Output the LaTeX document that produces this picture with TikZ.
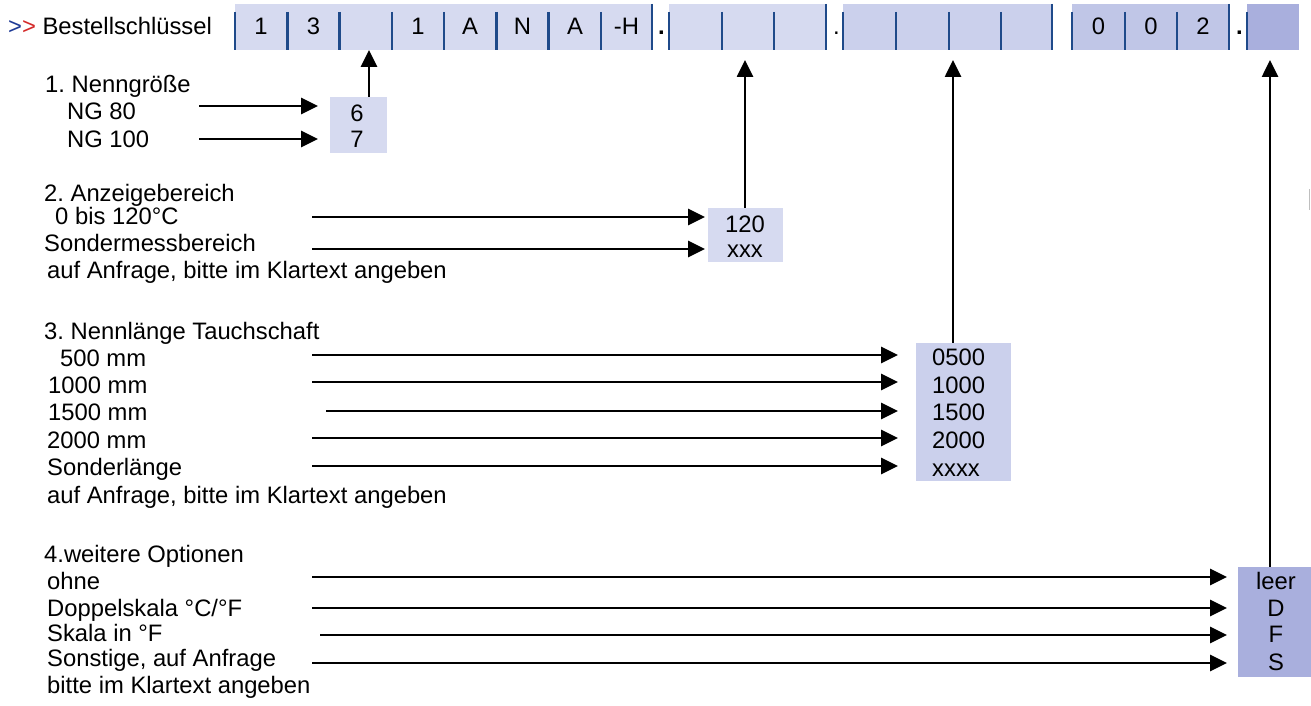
\documentclass[tikz,border=0pt]{standalone}
\usepackage{fontspec}
\setmainfont{Liberation Sans}
\usetikzlibrary{arrows.meta}
\definecolor{sepblue}{HTML}{1F4A8A}
\definecolor{fillA}{HTML}{D6DAF0}
\definecolor{fillB}{HTML}{CBD0EC}
\definecolor{fillC}{HTML}{C0C6E7}
\definecolor{fillD}{HTML}{A9AFDD}
\definecolor{gtblue}{HTML}{1E3A96}
\definecolor{gtred}{HTML}{D42A2A}
\frenchspacing
\begin{document}
\begin{tikzpicture}[x=1pt,y=-1pt,
  txt/.style={anchor=base west, inner sep=0pt, font=\fontsize{23.8}{27}\selectfont},
  ctxt/.style={anchor=base, inner sep=0pt, font=\fontsize{23.8}{27}\selectfont},
  arr/.style={line width=2.7pt, -{Triangle[length=17pt,width=16pt]}},
  sepline/.style={draw=sepblue, line width=2.4pt},
  segbox/.style={draw=none, inner sep=0pt, minimum height=46pt},
  optbox/.style={draw=none, inner sep=0pt}
  ]
\useasboundingbox (0,0) rectangle (1311,706);
\fill[white] (0,0) rectangle (1311,706);

% header
\node[txt] (head) at (8,35) {{\color{gtblue}>}{\color{gtred}>} Bestellschlüssel};

% bar segments
\node[segbox, fill=fillA, minimum width=417pt] (seg1) at (443.5,27) {};
\node[segbox, fill=fillA, minimum width=157pt] (seg2) at (747.5,27) {};
\node[segbox, fill=fillB, minimum width=209pt] (seg3) at (947.5,27) {};
\node[segbox, fill=fillC, minimum width=157pt] (seg4) at (1150.5,27) {};
\node[segbox, fill=fillD, minimum width=52pt] (seg5) at (1273,27) {};

% separators
\foreach \x in {235,287.5,339.5,392,444,496.5,548.5,601,669,722,774,843,896,949,1001,1072,1125,1177,1247}
  \draw[sepline] (\x,12) -- (\x,50);
\foreach \x in {652,826,1052,1229}
  \draw[sepline] (\x,4) -- (\x,50);

% bar texts
\node[ctxt] (c1) at (261,35) {1};
\node[ctxt] (c2) at (313.5,35) {3};
\node[ctxt] (c4) at (418,35) {1};
\node[ctxt] (c5) at (470,35) {A};
\node[ctxt] (c6) at (522.5,35) {N};
\node[ctxt] (c7) at (575,35) {A};
\node[ctxt] (c8) at (626.5,35) {-H};
\node[ctxt] (d1) at (661.5,35) {\textbf{.}};
\node[ctxt] (d2) at (836.5,35) {.};
\node[ctxt] (c9) at (1098.5,35) {0};
\node[ctxt] (c10) at (1151,35) {0};
\node[ctxt] (c11) at (1203,35) {2};
\node[ctxt] (d3) at (1239.5,35) {\textbf{.}};

% up-arrow targets
\coordinate (t1) at (369,50);
\coordinate (t2) at (745,60);
\coordinate (t3) at (953,60);
\coordinate (t4) at (1270,60);

% option boxes
\node[optbox, fill=fillA, minimum width=57pt, minimum height=56pt] (b1) at (358.5,125) {};
\node[optbox, fill=fillA, minimum width=75pt, minimum height=54pt] (b2) at (745.5,235) {};
\node[optbox, fill=fillB, minimum width=95pt, minimum height=138pt] (b3) at (963.5,412) {};
\node[optbox, fill=fillD, minimum width=73pt, minimum height=110pt] (b4) at (1274.5,622) {};

\draw[arr] (b1.north -| t1) -- (t1);
\draw[arr] (b2.north -| t2) -- (t2);
\draw[arr] (b3.north -| t3) -- (t3);
\draw[arr] (b4.north -| t4) -- (t4);

% section 1
\node[txt] (s1h) at (45,93) {1. Nenngröße};
\node[txt] (s1a) at (67,120) {NG 80};
\node[txt] (s1b) at (67,147) {NG 100};
\node[ctxt] (v6) at (357,122) {6};
\node[ctxt] (v7) at (357,147) {7};
\coordinate (a1s) at (199,106); \coordinate (a1e) at (318,106);
\coordinate (a2s) at (199,139); \coordinate (a2e) at (318,139);
\draw[arr] (a1s) -- (a1e);
\draw[arr] (a2s) -- (a2e);

% section 2
\node[txt] (s2h) at (44,201) {2. Anzeigebereich};
\node[txt] (s2a) at (55,224) {0 bis 120°C};
\node[txt] (s2b) at (44,251) {Sondermessbereich};
\node[txt] (s2c) at (47,278) {auf Anfrage, bitte im Klartext angeben};
\node[ctxt] (v120) at (745,232) {120};
\node[ctxt] (vxxx) at (745,257) {xxx};
\coordinate (b1s) at (312,217); \coordinate (b1e) at (705,217);
\coordinate (b2s) at (312,249); \coordinate (b2e) at (705,249);
\draw[arr] (b1s) -- (b1e);
\draw[arr] (b2s) -- (b2e);

% section 3
\node[txt] (s3h) at (44,339) {3. Nennlänge Tauchschaft};
\node[txt] (s3a) at (60,366) {500 mm};
\node[txt] (s3b) at (48,393) {1000 mm};
\node[txt] (s3c) at (48,420) {1500 mm};
\node[txt] (s3d) at (47,448) {2000 mm};
\node[txt] (s3e) at (47,475) {Sonderlänge};
\node[txt] (s3f) at (47,503) {auf Anfrage, bitte im Klartext angeben};
\node[txt] (w1) at (932,365) {0500};
\node[txt] (w2) at (932,393) {1000};
\node[txt] (w3) at (932,420) {1500};
\node[txt] (w4) at (932,448) {2000};
\node[txt] (w5) at (932,476) {xxxx};
\coordinate (c1s) at (312,355); \coordinate (c1e) at (898,355);
\coordinate (c2s) at (312,382); \coordinate (c2e) at (898,382);
\coordinate (c3s) at (326,411); \coordinate (c3e) at (898,411);
\coordinate (c4s) at (312,438); \coordinate (c4e) at (898,438);
\coordinate (c5s) at (312,466); \coordinate (c5e) at (898,466);
\foreach \i in {1,...,5} \draw[arr] (c\i s) -- (c\i e);

% section 4
\node[txt] (s4h) at (44,562) {4.weitere Optionen};
\node[txt] (s4a) at (47,589) {ohne};
\node[txt] (s4b) at (47,616) {Doppelskala °C/°F};
\node[txt] (s4c) at (47,641) {Skala in °F};
\node[txt] (s4d) at (47,666) {Sonstige, auf Anfrage};
\node[txt] (s4e) at (47,693) {bitte im Klartext angeben};
\node[ctxt] (x1) at (1276,589) {leer};
\node[ctxt] (x2) at (1276,616) {D};
\node[ctxt] (x3) at (1276,642) {F};
\node[ctxt] (x4) at (1276,670) {S};
\coordinate (e1s) at (312,577); \coordinate (e1e) at (1227,577);
\coordinate (e2s) at (312,608); \coordinate (e2e) at (1227,608);
\coordinate (e3s) at (320,635); \coordinate (e3e) at (1227,635);
\coordinate (e4s) at (312,663); \coordinate (e4e) at (1227,663);
\foreach \i in {1,...,4} \draw[arr] (e\i s) -- (e\i e);

% small grey mark at right edge
\draw[gray!50, line width=1.2pt] (1309.5,189) -- (1309.5,210);
\end{tikzpicture}
\end{document}
